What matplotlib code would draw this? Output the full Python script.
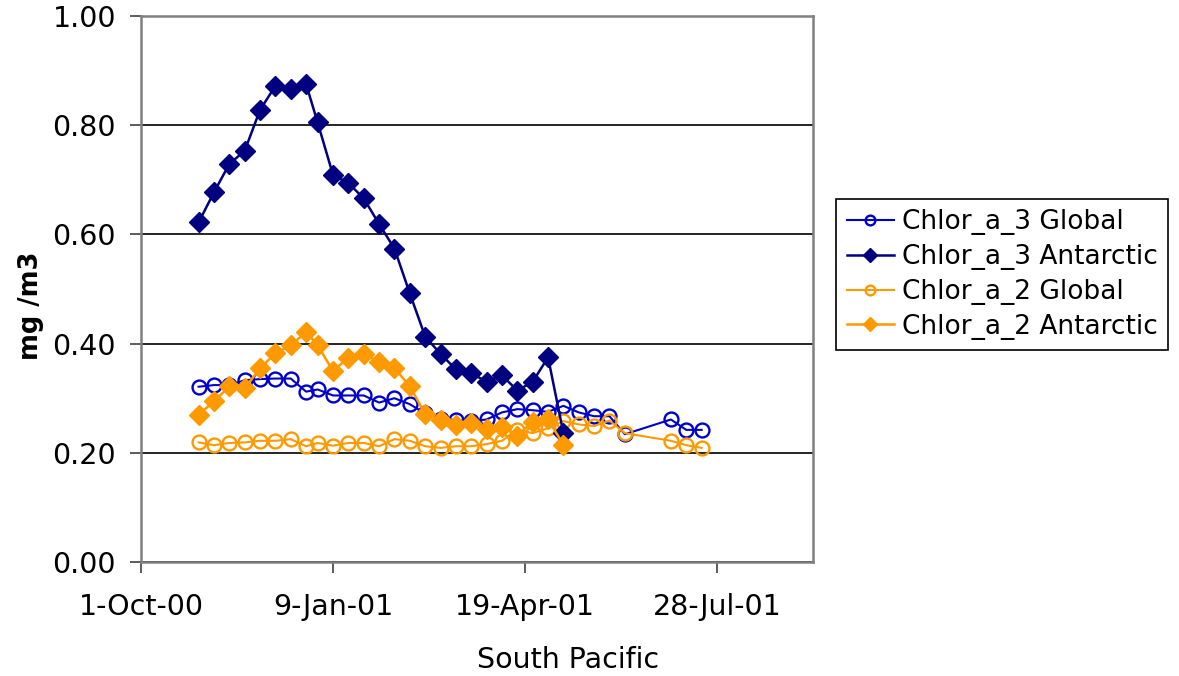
import datetime as dt
import matplotlib
matplotlib.use("Agg")
import matplotlib.pyplot as plt
import matplotlib.dates as mdates
from matplotlib.ticker import FuncFormatter

# ---- data ----
dates_global = ["2000-10-31", "2000-11-08", "2000-11-16", "2000-11-24", "2000-12-02",
                "2000-12-10", "2000-12-18", "2000-12-26", "2001-01-01", "2001-01-09",
                "2001-01-17", "2001-01-25", "2001-02-02", "2001-02-10", "2001-02-18",
                "2001-02-26", "2001-03-06", "2001-03-14", "2001-03-22", "2001-03-30",
                "2001-04-07", "2001-04-15", "2001-04-23", "2001-05-01", "2001-05-09",
                "2001-05-17", "2001-05-25", "2001-06-02", "2001-06-10", "2001-07-04",
                "2001-07-12", "2001-07-20"]
dates_antarctic = dates_global[:25]

chlor3_global = [0.321, 0.324, 0.324, 0.333, 0.335, 0.336, 0.336, 0.312, 0.316, 0.305,
                 0.305, 0.305, 0.292, 0.300, 0.289, 0.272, 0.262, 0.260, 0.258, 0.261,
                 0.274, 0.280, 0.278, 0.275, 0.286, 0.274, 0.267, 0.267, 0.234, 0.261,
                 0.242, 0.242]
chlor3_antarctic = [0.622, 0.677, 0.729, 0.753, 0.828, 0.872, 0.867, 0.875, 0.805, 0.709,
                    0.694, 0.666, 0.619, 0.574, 0.492, 0.413, 0.381, 0.353, 0.346, 0.330,
                    0.342, 0.314, 0.330, 0.375, 0.236]
chlor2_global = [0.219, 0.214, 0.218, 0.219, 0.222, 0.222, 0.225, 0.212, 0.218, 0.213,
                 0.218, 0.218, 0.212, 0.225, 0.222, 0.212, 0.209, 0.212, 0.212, 0.216,
                 0.222, 0.242, 0.236, 0.245, 0.258, 0.252, 0.249, 0.259, 0.236, 0.222,
                 0.214, 0.209]
chlor2_antarctic = [0.270, 0.294, 0.322, 0.318, 0.355, 0.382, 0.397, 0.421, 0.397, 0.350,
                    0.374, 0.381, 0.366, 0.355, 0.322, 0.271, 0.260, 0.251, 0.255, 0.243,
                    0.248, 0.231, 0.257, 0.261, 0.215]

series_labels = ["Chlor_a_3 Global", "Chlor_a_3 Antarctic",
                 "Chlor_a_2 Global", "Chlor_a_2 Antarctic"]
xtick_dates = ["2000-10-01", "2001-01-09", "2001-04-19", "2001-07-28"]
x_start, x_end = "2000-10-01", "2001-09-16"
y_ticks = [0.0, 0.2, 0.4, 0.6, 0.8, 1.0]


def to_dt(lst):
    return [dt.datetime.strptime(s, "%Y-%m-%d") for s in lst]


plt.rcParams['font.family'] = ['DejaVu Sans']

fig = plt.figure(figsize=(11.79, 6.76), dpi=100)
ax = fig.add_axes([141 / 1179, 1 - 562 / 676, (813 - 141) / 1179, (562 - 16) / 676])

blue = "#0000CC"
navy = "#000080"
orange = "#FF9900"

ax.plot(to_dt(dates_global), chlor3_global, color=blue, lw=1.5, marker='o', ms=10,
        mfc='none', mec=blue, mew=1.7, label=series_labels[0], zorder=3)
ax.plot(to_dt(dates_antarctic), chlor3_antarctic, color=navy, lw=1.8, marker='D', ms=10,
        mfc=navy, mec=navy, label=series_labels[1], zorder=4)
ax.plot(to_dt(dates_global), chlor2_global, color=orange, lw=1.5, marker='o', ms=10,
        mfc='none', mec=orange, mew=1.7, label=series_labels[2], zorder=3)
ax.plot(to_dt(dates_antarctic), chlor2_antarctic, color=orange, lw=1.8, marker='D', ms=10,
        mfc=orange, mec=orange, label=series_labels[3], zorder=4)

ax.set_xlim(to_dt([x_start])[0], to_dt([x_end])[0])
ax.set_ylim(0, 1.0)
ax.set_yticks(y_ticks)
ax.yaxis.set_major_formatter(FuncFormatter(lambda v, p: f"{v:.2f}"))
ax.set_xticks(to_dt(xtick_dates))
ax.xaxis.set_major_formatter(FuncFormatter(
    lambda v, p: (lambda d: f"{d.day}-{d.strftime('%b-%y')}")(mdates.num2date(v))))

ax.grid(axis='y', color='black', lw=1.2, zorder=1)
ax.set_axisbelow(True)
for s in ax.spines.values():
    s.set_color('#808080')
    s.set_linewidth(1.8)

ax.tick_params(axis='both', direction='out', length=8, width=1.2, color='#404040',
               labelsize=20.5, labelcolor='black')
ax.tick_params(axis='y', pad=10)
ax.tick_params(axis='x', pad=14)

ax.set_ylabel("mg /m3", fontsize=18.5, fontweight='bold')
ax.yaxis.set_label_coords(-0.144, 0.47)
fig.text(568 / 1179, 1 - 660 / 676, "South Pacific", fontsize=20.5, ha='center', va='center')

leg = fig.legend(loc='center left', bbox_to_anchor=(836 / 1179, 1 - 274.5 / 676),
                 fontsize=19, frameon=True, fancybox=False, framealpha=1,
                 edgecolor='black', handlelength=1.8, handletextpad=0.3,
                 borderpad=0.4, labelspacing=0.33, markerscale=0.7, borderaxespad=0)
leg.get_frame().set_linewidth(1.2)

fig.savefig("out.png", dpi=100, facecolor='white')
